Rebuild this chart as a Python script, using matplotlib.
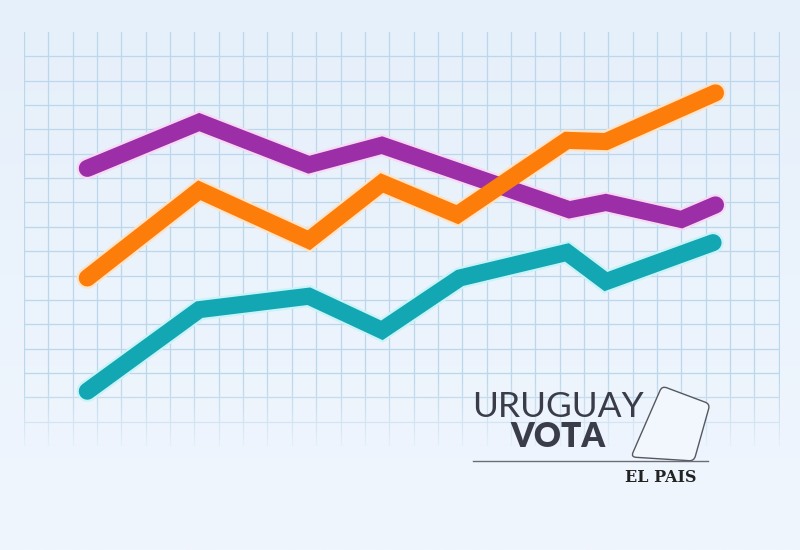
import numpy as np
import matplotlib.pyplot as plt
from matplotlib.patches import PathPatch
from matplotlib.path import Path
from matplotlib.colors import to_rgb

# grid units on x, vote share-like units on y
purple_x = [2.6, 7.2, 11.7, 14.7, 22.4, 23.9, 27.0, 28.4]
purple_y = [30.8, 34.6, 31.1, 32.7, 27.4, 28.0, 26.6, 27.8]

orange_x = [2.6, 7.2, 11.7, 14.7, 17.8, 22.3, 23.9, 28.4]
orange_y = [21.8, 29.0, 24.9, 29.6, 27.0, 33.1, 33.0, 37.0]

teal_x = [2.6, 7.2, 11.7, 14.7, 17.9, 22.3, 23.9, 28.3]
teal_y = [12.5, 19.2, 20.3, 17.5, 21.8, 23.9, 21.5, 24.7]

series = [
    (purple_x, purple_y, '#9c2fa7', '#f6d9f3'),
    (orange_x, orange_y, '#fd7d0b', '#fde3c8'),
    (teal_x, teal_y, '#12a7b3', '#c9f3f7'),
]


def rounded_path(pts, r):
    # closed polygon with quadratic-rounded corners
    pts = np.asarray(pts, float)
    n = len(pts)
    verts, codes = [], []
    for i in range(n):
        p0, p1, p2 = pts[i - 1], pts[i], pts[(i + 1) % n]
        a = p1 + (p0 - p1) / np.linalg.norm(p0 - p1) * r
        b = p1 + (p2 - p1) / np.linalg.norm(p2 - p1) * r
        verts += [a, p1, b]
        codes += [Path.MOVETO if i == 0 else Path.LINETO, Path.CURVE3, Path.CURVE3]
    verts.append(verts[0])
    codes.append(Path.CLOSEPOLY)
    return Path(verts, codes)


fig = plt.figure(figsize=(8, 5.5), dpi=100)

# background gradient
bg = fig.add_axes([0, 0, 1, 1], zorder=0)
top = np.array(to_rgb('#e6f0fa'))
bot = np.array(to_rgb('#f0f6fe'))
t = np.linspace(0, 1, 256)[:, None]
grad = top * (1 - t) + bot * t
bg.imshow(grad[:, None, :].repeat(2, axis=1), aspect='auto', extent=[0, 1, 0, 1])
bg.set_axis_off()

# chart area, one grid cell = 24.35 px
ax = fig.add_axes([24 / 800, 1 - 446 / 550, 756 / 800, 414 / 550], zorder=1)
ax.patch.set_alpha(0)
ax.set_axis_off()

gcol = '#bad7ec'
for gx in range(0, 32):
    ax.plot([gx, gx], [8, 42], color=gcol, lw=0.9, zorder=1)
for gy in range(8, 41, 2):
    ax.plot([0, 31.05], [gy, gy], color=gcol, lw=0.9, zorder=1)

# fade the grid out toward the bottom
fade = np.zeros((100, 2, 4))
fade[..., :3] = to_rgb('#eef5fd')
fade[..., 3] = np.linspace(0, 0.9, 100)[:, None] ** 1.5
ax.imshow(fade, aspect='auto', extent=[-0.5, 31.5, 7.9, 14.5], origin='upper', zorder=2)
ax.set_xlim(0, 31.05)
ax.set_ylim(8, 42)

for xs, ys, c, halo in series:
    ax.plot(xs, ys, color=halo, lw=15.5, solid_capstyle='round', solid_joinstyle='miter', zorder=3)
    ax.plot(xs, ys, color=c, lw=12.3, solid_capstyle='round', solid_joinstyle='miter', zorder=4)

# logo
ov = fig.add_axes([0, 0, 1, 1], zorder=2)
ov.set_xlim(0, 800)
ov.set_ylim(550, 0)
ov.set_axis_off()
ov.patch.set_alpha(0)

ink = '#3a3d49'
ov.text(472, 417, 'URUGUAY', fontsize=25.5, family='Lato', fontweight='normal', color=ink, va='baseline')
ov.text(510, 447, 'VOTA', fontsize=24, family='Lato', fontweight='heavy', color=ink, va='baseline')
ov.plot([473, 708], [461, 461], color='#6a6d75', lw=1.0)
ballot = PathPatch(rounded_path([(662, 386), (710, 404), (694, 461), (631, 457)], 5),
                   facecolor='#f2f7fd', edgecolor='#55585f', lw=1.0)
ov.add_patch(ballot)
ov.text(661, 482, 'EL PAIS', fontsize=11.5, family='DejaVu Serif', fontweight='heavy',
        color='#232323', ha='center', va='baseline')

fig.savefig('out.png', dpi=100)
